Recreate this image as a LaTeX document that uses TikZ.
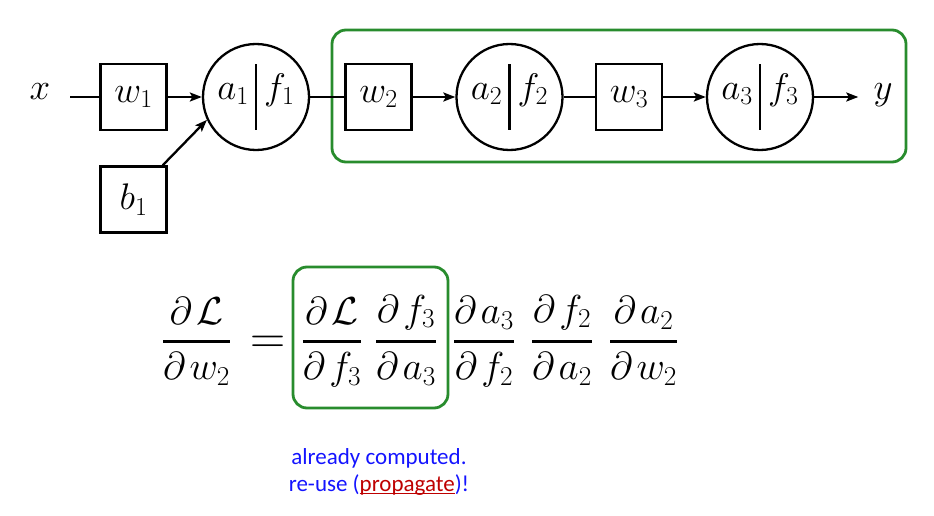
\RequirePackage{fix-cm}
\documentclass[tikz,border=0pt]{standalone}
\usepackage{amsmath}
\usepackage{fontspec}
\newfontfamily\calibri{Carlito}
\usetikzlibrary{positioning,arrows.meta}
\definecolor{boxgreen}{RGB}{40,140,45}
\definecolor{noteblue}{RGB}{20,20,255}
\definecolor{notered}{RGB}{190,0,0}
\tikzset{
  wbox/.style={draw,line width=2.3pt,minimum width=66pt,minimum height=66pt,inner sep=0pt,font=\fontsize{37}{40}\selectfont},
  unit/.style={draw,circle,line width=2.3pt,minimum size=106pt,inner sep=0pt},
  lbl/.style={inner sep=0pt,font=\fontsize{37}{40}\selectfont},
  conn/.style={line width=2.3pt},
  arr/.style={conn,-{Stealth[length=12pt,width=9pt,inset=2.5pt]}},
  hl/.style={draw=boxgreen,line width=2.8pt,rounded corners=14pt},
  frc/.style={anchor=base,inner sep=0pt,font=\fontsize{39}{44}\selectfont}
}
% unit with a | f split
\newcommand{\actnode}[4]{%
  \node[unit] (#1) at (#2,97) {};
  \draw[conn] ([yshift=-33pt]#1.center) -- ([yshift=33pt]#1.center);
  \node[lbl,anchor=mid east] (#1a) at ([xshift=-7pt]#1.center) {$#3$};
  \node[lbl,anchor=mid west] (#1f) at ([xshift=8pt]#1.center) {$#4$};}
\newcommand{\dd}{\partial\mkern2mu}
\newcommand{\pfrac}[2]{{\displaystyle\genfrac{}{}{3.3pt}{0}{#1}{#2}}}
\newcommand{\redul}[1]{\setbox0\hbox{#1}\rlap{\rule[-3pt]{\wd0}{1.4pt}}#1}
\begin{document}
\begin{tikzpicture}[x=1pt,y=-1pt]
  \useasboundingbox (0,0) rectangle (934,516);
  %% highlighted part of the net
  \draw[hl] (332,30) rectangle (906,162);
  \node[lbl,anchor=mid] (x) at (40,97) {$x$};
  \node[wbox] (w1) at (133.5,97) {$w_1$};
  \node[wbox] (b1) at (133.5,199.5) {$b_1$};
  \actnode{u1}{256}{a_1}{f_1}
  \node[wbox] (w2) at (378.5,97) {$w_2$};
  \actnode{u2}{509.5}{a_2}{f_2}
  \node[wbox] (w3) at (629,97) {$w_3$};
  \actnode{u3}{760}{a_3}{f_3}
  \node[lbl,anchor=mid] (y) at (883,97) {$y$};
  \draw[conn,shorten <=20pt] (x.mid east) -- (w1);
  \draw[arr] (w1) -- (u1);
  \draw[arr] ([xshift=-5pt]b1.north east) -- (u1.205);
  \draw[conn] (u1) -- (w2);
  \draw[arr] (w2) -- (u2);
  \draw[conn] (u2) -- (w3);
  \draw[arr] (w3) -- (u3);
  \draw[arr,shorten >=15pt] (u3) -- (y.mid west);
  %% chain rule
  \draw[hl] (293,267) rectangle (448,408);
  \node[frc] (lhs) at (196.5,351) {$\pfrac{\dd\mathcal{L}}{\dd w_2}$};
  \node[frc,scale=1.25] (eq) at (268,353) {$=$};
  \node[frc] (d1) at (332,351) {$\pfrac{\dd\mathcal{L}}{\dd f_3}$};
  \node[frc] (d2) at (406,351) {$\pfrac{\dd f_3}{\dd a_3}$};
  \node[frc] (d3) at (484,351) {$\pfrac{\dd a_3}{\dd f_2}$};
  \node[frc] (d4) at (562,351) {$\pfrac{\dd f_2}{\dd a_2}$};
  \node[frc] (d5) at (643.5,351) {$\pfrac{\dd a_2}{\dd w_2}$};
  \node[font=\calibri\fontsize{23}{27}\selectfont,text=noteblue,align=center] (note) at (379,471.5)
    {already computed.\\re-use (\textcolor{notered}{\redul{propagate}})!};
\end{tikzpicture}
\end{document}
